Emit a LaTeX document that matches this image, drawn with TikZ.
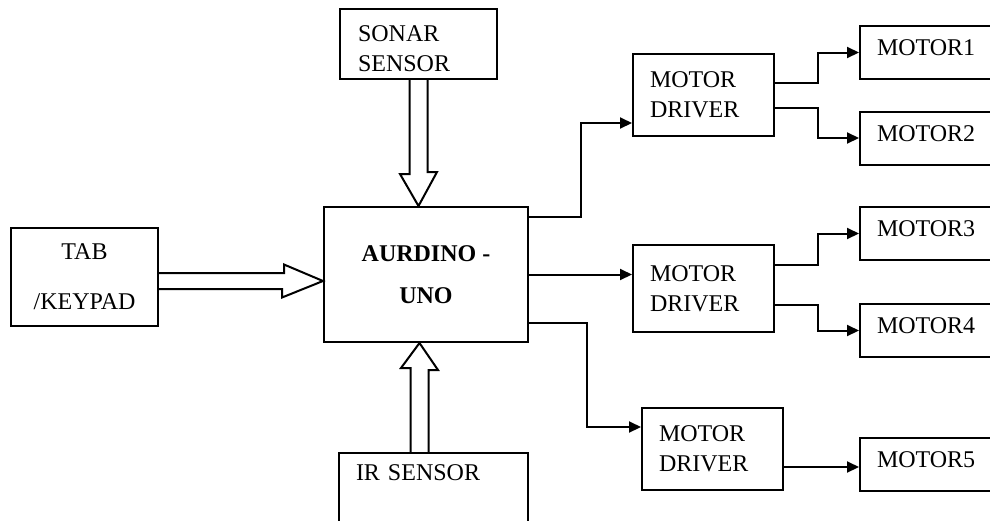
\documentclass[tikz,border=0pt]{standalone}
\usepackage{fontspec}
\setmainfont{Liberation Serif}
\usetikzlibrary{positioning,arrows.meta,calc}

\begin{document}
\begin{tikzpicture}[x=1pt, y=-1pt,
    box/.style={draw, line width=2pt, inner sep=0pt, font=\fontsize{24}{30}\selectfont},
    leftbox/.style={box, align=left},
    driver/.style={leftbox, minimum width=141pt, text width=107pt},
    motor/.style={leftbox, minimum width=160pt, minimum height=53pt, text width=126pt, text depth=9pt},
    link/.style={line width=2pt, -{Triangle[length=12pt,width=11pt]}},
    fat/.style={line width=2pt, line join=miter},
  ]
  \useasboundingbox (0,0) rectangle (990,520);
  \clip (0,0) rectangle (990,520);

  % Controller
  \node[box, minimum width=204pt, minimum height=135pt, align=center,
        font=\fontsize{24}{42}\selectfont\bfseries] (ard) at (426,274.5) {AURDINO -\\UNO};

  % Inputs
  \node[leftbox, minimum width=157pt, minimum height=70pt, text width=121pt] (sonar) at (418.5,44) {\rule{0pt}{26pt}SONAR\\SENSOR};
  \node[box, minimum width=147pt, minimum height=98pt, align=center] (tab) at (84.5,277) {TAB\\[20pt]/KEYPAD};
  \node[leftbox, minimum width=189pt, minimum height=97pt, text width=155pt, text depth=57pt] (ir) at (433.5,501.5) {IR SENSOR};

  % Drivers
  \node[driver, minimum height=82pt] (md1) at (703.5,95) {MOTOR\\DRIVER};
  \node[driver, minimum height=87pt] (md2) at (703.5,288.5) {MOTOR\\DRIVER};
  \node[driver, minimum height=82pt] (md3) at (712.5,449) {MOTOR\\DRIVER};

  % Motors
  \node[motor] (m1) at (940,52.5) {MOTOR1};
  \node[motor] (m2) at (940,138) {MOTOR2};
  \node[motor] (m3) at (940,233.5) {MOTOR3};
  \node[motor] (m4) at (940,330.5) {MOTOR4};
  \node[motor] (m5) at (940,464) {MOTOR5};

  % Sensor inputs (hollow arrows)
  \draw[fat] ([xshift=-9pt]sonar.south) -- ++(0,94) -- ++(-9.5,0) -- (sonar.south |- ard.north)
    -- ++(18.5,-34) -- ++(-9.5,0) -- ([xshift=9pt]sonar.south);
  \coordinate (tabout) at ([yshift=-4pt]tab.east);
  \draw[fat] ($(tabout)+(0,-8)$) -- ++(125,0) -- ++(0,-8.5) -- (tabout -| ard.west)
    -- ++(-41,16.5) -- ++(0,-8.5) -- ($(tabout)+(0,8)$);
  \coordinate (irout) at ([xshift=-14pt]ir.north);
  \draw[fat] ([xshift=-9pt]irout) -- ++(0,-84) -- ++(-9.5,0) -- (irout |- ard.south)
    -- ++(18.5,27) -- ++(-9.5,0) -- ([xshift=9pt]irout);

  % Controller to drivers
  \draw[link] ([yshift=-11pt]ard.north east) -- ++(52,0) |- ([yshift=14pt]md1.south west);
  \draw[link] (ard.east) -- (ard.east -| md2.west);
  \draw[link] ([yshift=20pt]ard.south east) -- ++(58,0) |- ([yshift=22pt]md3.west);

  % Drivers to motors
  \draw[link] ([yshift=12pt]md1.east) -- ++(43,0) |- (m1.west);
  \draw[link] ([yshift=-13pt]md1.east) -- ++(43,0) |- (m2.west);
  \draw[link] ([yshift=24pt]md2.east) -- ++(43,0) |- (m3.west);
  \draw[link] ([yshift=-16pt]md2.east) -- ++(43,0) |- (m4.west);
  \coordinate (d3out) at ([yshift=-18pt]md3.east);
  \draw[link] (d3out) -- (d3out -| m5.west);
\end{tikzpicture}
\end{document}
